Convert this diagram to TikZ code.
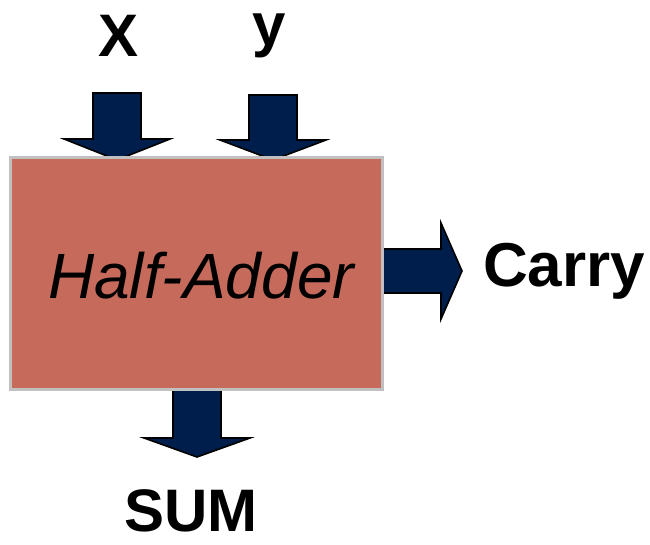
\documentclass[tikz,border=0pt]{standalone}
\usepackage{fontspec}
\setmainfont{Liberation Sans}
\definecolor{boxfill}{RGB}{198,107,92}
\definecolor{boxline}{RGB}{192,192,192}
\definecolor{navy}{RGB}{0,30,75}
\tikzset{
  blockarrow/.style={fill=navy,draw=black,line width=1.6pt,line join=miter},
  lbl/.style={font=\fontsize{60}{60}\selectfont\bfseries,inner sep=0pt,anchor=base west},
}
\begin{document}
\begin{tikzpicture}[x=1pt,y=-1pt]
\useasboundingbox (0,0) rectangle (650,545);
% input arrows
\draw[blockarrow] (93,93) -- (141,93) -- (141,139) -- (170,139) -- (117,160) -- (64,139) -- (93,139) -- cycle;
\draw[blockarrow] (249,95) -- (297,95) -- (297,140) -- (326,140) -- (273,160) -- (220,140) -- (249,140) -- cycle;
% output arrows
\draw[blockarrow] (375,249) -- (441,249) -- (441,223) -- (462,271) -- (441,319) -- (441,293) -- (375,293) -- cycle;
\draw[blockarrow] (173,380) -- (221,380) -- (221,438) -- (250,438) -- (197,457) -- (144,438) -- (173,438) -- cycle;
% box
\node[draw=boxline,fill=boxfill,line width=3pt,minimum width=372pt,minimum height=232pt,inner sep=0pt] (ha) at (196.5,273.5) {};
\node[font=\fontsize{64}{64}\selectfont\itshape,inner sep=0pt,anchor=base west] (hat) at (48,298) {Half-Adder};
% labels
\node[lbl] (x) at (98,57) {X};
\node[lbl] (y) at (252,46) {y};
\node[lbl,font=\fontsize{62}{62}\selectfont\bfseries] (carry) at (483,286) {Carry};
\node[lbl,text depth=0pt] (sum) at (124,531) {SUM};
\end{tikzpicture}
\end{document}
